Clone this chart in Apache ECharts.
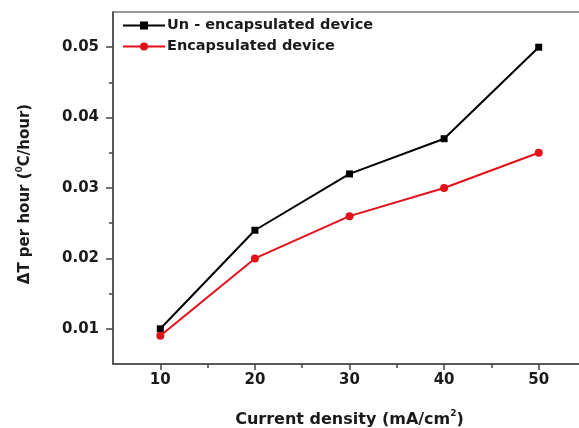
<!DOCTYPE html>
<html><head><meta charset="utf-8">
<script src="https://cdn.jsdelivr.net/npm/echarts@6/dist/echarts.min.js"></script>
<style>html,body{margin:0;padding:0;background:#fff}#c{width:579px;height:428px}</style>
</head><body><div id="c"></div>
<script>
const currentDensity = [10, 20, 30, 40, 50];
const unencapsulated = [0.010, 0.024, 0.032, 0.037, 0.050];
const encapsulated = [0.009, 0.020, 0.026, 0.030, 0.035];
const xTickLabels = [10, 20, 30, 40, 50];
const xMinorTicks = [15, 25, 35, 45];
const yTickLabels = [0.01, 0.02, 0.03, 0.04, 0.05];
const yMinorTicks = [0.015, 0.025, 0.035, 0.045];
const seriesNames = ['Un - encapsulated device', 'Encapsulated device'];

const FONT = 'DejaVu Sans';
const chart = echarts.init(document.getElementById('c'));
const axisLineStyle = {color: '#444', width: 1.5};
chart.setOption({
  animation: false,
  backgroundColor: '#fff',
  grid: {left: 113, top: 12, height: 352, width: 473, outerBoundsMode: 'none', containLabel: false,
    show: true, borderColor: '#777', borderWidth: 1.5},
  legend: {
    orient: 'vertical', left: 117, top: 13, itemWidth: 42, itemHeight: 10, itemGap: 6,
    textStyle: {fontFamily: FONT, fontWeight: 'bold', fontSize: 14.5, color: '#1a1a1a', padding: [0,0,0,-3]},
    data: seriesNames.map(n => ({name: n}))
  },
  xAxis: [{
    type: 'value', min: 5, max: 55, interval: 5,
    name: '{a|Current density (mA/cm}{s|2}{a|)}', nameLocation: 'middle', nameGap: 45,
    nameTextStyle: {rich: {
      a: {fontFamily: FONT, fontWeight: 'bold', fontSize: 16, color: '#1a1a1a'},
      s: {fontFamily: FONT, fontWeight: 'bold', fontSize: 9, color: '#1a1a1a', verticalAlign: 'top', padding: [0,0,12,0]}
    }},
    axisLine: {show: true, onZero: false, lineStyle: axisLineStyle},
    axisTick: {show: true, inside: false, length: 6, lineStyle: axisLineStyle, customValues: xTickLabels},
    axisLabel: {customValues: xTickLabels, margin: 9, fontFamily: FONT, fontWeight: 'bold', fontSize: 15, color: '#1a1a1a'},
    splitLine: {show: false}
  }, {
    type: 'value', min: 5, max: 55, position: 'bottom',
    axisLine: {show: false},
    axisTick: {show: true, inside: false, length: 4, lineStyle: axisLineStyle, customValues: xMinorTicks},
    axisLabel: {show: false}, splitLine: {show: false}
  }],
  yAxis: [{
    type: 'value', min: 0.005, max: 0.055, interval: 0.005,
    name: '{a|ΔT per hour (}{s|0}{a|C/hour)}', nameLocation: 'middle', nameGap: 77, nameRotate: 90,
    nameTextStyle: {padding: [0, 12, 0, 0], rich: {
      a: {fontFamily: FONT, fontWeight: 'bold', fontSize: 15, color: '#1a1a1a'},
      s: {fontFamily: FONT, fontWeight: 'bold', fontSize: 9, color: '#1a1a1a', verticalAlign: 'top', padding: [0,0,12,0]}
    }},
    axisLine: {show: true, onZero: false, lineStyle: axisLineStyle},
    axisTick: {show: true, inside: false, length: 7, lineStyle: axisLineStyle, customValues: yTickLabels},
    axisLabel: {customValues: yTickLabels, margin: 14, fontFamily: FONT, fontWeight: 'bold', fontSize: 15, color: '#1a1a1a',
      formatter: v => v.toFixed(2)},
    splitLine: {show: false}
  }, {
    type: 'value', min: 0.005, max: 0.055, position: 'left',
    axisLine: {show: false},
    axisTick: {show: true, inside: false, length: 4, lineStyle: axisLineStyle, customValues: yMinorTicks},
    axisLabel: {show: false}, splitLine: {show: false}
  }],
  series: [{
    name: seriesNames[0], type: 'line',
    data: currentDensity.map((x, i) => [x, unencapsulated[i]]),
    symbol: 'rect', symbolSize: 7,
    lineStyle: {color: '#000', width: 2}, itemStyle: {color: '#000'}
  }, {
    name: seriesNames[1], type: 'line',
    data: currentDensity.map((x, i) => [x, encapsulated[i]]),
    symbol: 'circle', symbolSize: 8,
    lineStyle: {color: '#e3101a', width: 2}, itemStyle: {color: '#e3101a'}
  }]
});
</script></body></html>
